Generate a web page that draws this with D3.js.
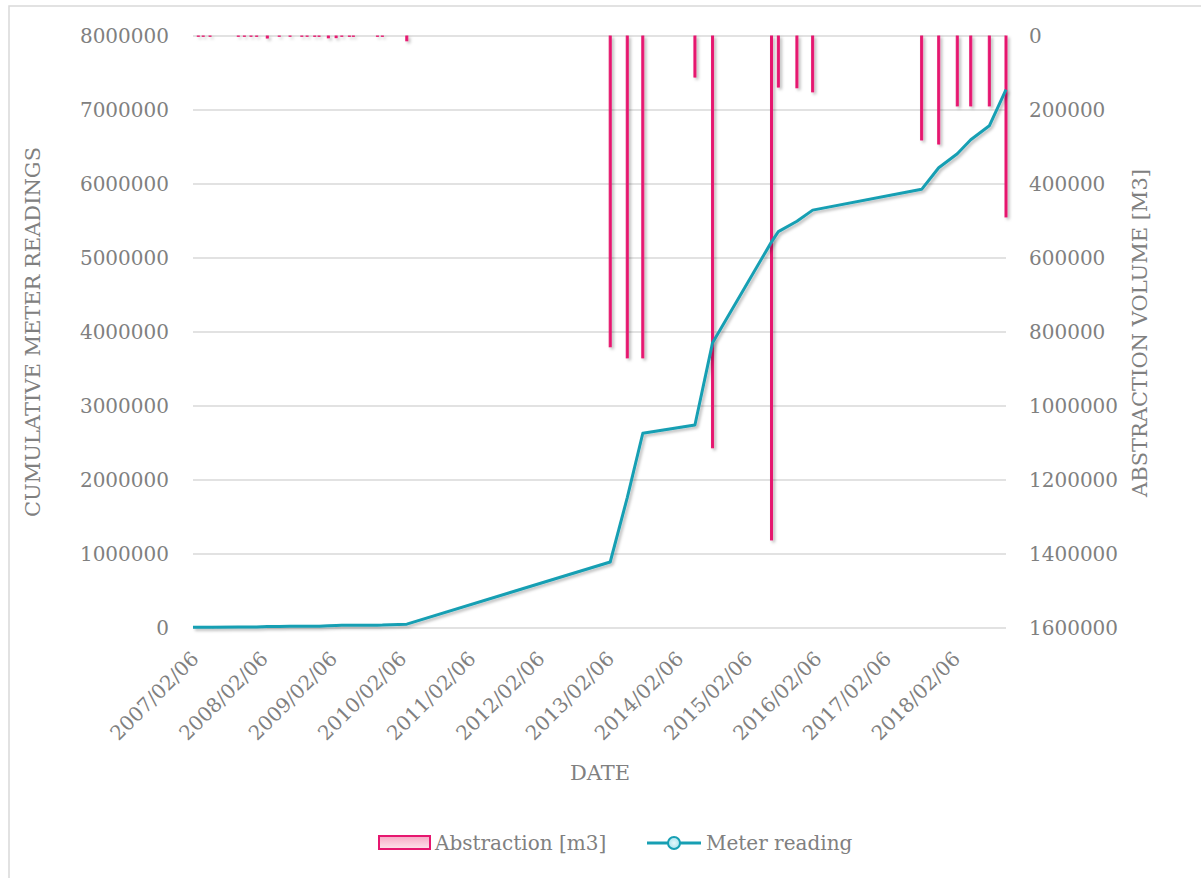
<!DOCTYPE html>
<html>
<head>
<meta charset="utf-8">
<script src="https://cdn.jsdelivr.net/npm/d3@7"></script>
<style>
  body { margin: 0; background: #fff; }
  text { font-family: "DejaVu Serif", serif; fill: #808080; }
</style>
</head>
<body>
<div id="chart"></div>
<script>
// readings (dates of meter readings)
var readingDates = [
  "2007-02-06", "2007-03-06", "2007-04-01", "2007-05-07", "2007-10-03", "2007-11-04",
  "2007-12-09", "2008-01-08", "2008-03-04", "2008-05-06", "2008-07-02", "2008-09-02",
  "2008-09-30", "2008-11-09", "2008-12-02", "2009-01-20", "2009-03-02", "2009-04-01",
  "2009-05-11", "2009-06-01", "2009-10-06", "2009-11-01", "2010-03-10",
  "2013-02-15", "2013-05-16", "2013-08-06", "2014-05-08", "2014-08-09",
  "2015-06-16", "2015-07-22", "2015-10-28", "2016-01-19",
  "2017-08-16", "2017-11-14", "2018-02-20", "2018-05-02", "2018-08-08", "2018-11-04"
];
// abstraction volume [m3] per reading
var abstraction = [
  0, 800, 800, 800, 800, 800,
  800, 900, 5500, 800, 800, 800,
  800, 900, 900, 5000, 4500, 800,
  900, 900, 900, 900, 13000,
  840000, 870000, 870000, 111000, 1113000,
  1362000, 138000, 140000, 151000,
  281000, 292000, 189000, 189000, 189000, 489000
];
// cumulative meter readings
var meter = [
  10000, 10500, 11000, 11500, 13000, 13500,
  14000, 14500, 20000, 21000, 22000, 23000,
  23500, 24000, 24500, 30000, 35000, 35500,
  36000, 36500, 38000, 39000, 52000,
  892000, 1762000, 2632000, 2743000, 3856000,
  5218000, 5356000, 5496000, 5647000,
  5928000, 6220000, 6409000, 6598000, 6787000, 7276000
];
var leftTicks = [0, 1000000, 2000000, 3000000, 4000000, 5000000, 6000000, 7000000, 8000000];
var rightTicks = [0, 200000, 400000, 600000, 800000, 1000000, 1200000, 1400000, 1600000];
var xTickLabels = ["2007-02-06", "2008-02-06", "2009-02-06", "2010-02-06", "2011-02-06", "2012-02-06",
  "2013-02-06", "2014-02-06", "2015-02-06", "2016-02-06", "2017-02-06", "2018-02-06"];

var svgWidth = 1201;
var svgHeight = 878;
var plot = { left: 193, right: 1006, top: 36, bottom: 628 };

var parse = d3.timeParse("%Y-%m-%d");
var fmt = d3.timeFormat("%Y/%m/%d");

var data = readingDates.map(function(d, i) {
  return { date: parse(d), abs: abstraction[i], meter: meter[i] };
});

var svg = d3.select("#chart")
  .append("svg")
  .attr("width", svgWidth)
  .attr("height", svgHeight);

var defs = svg.append("defs");
var shadow = defs.append("filter").attr("id", "shadow")
  .attr("x", "-20%").attr("y", "-20%").attr("width", "150%").attr("height", "150%");
shadow.append("feDropShadow")
  .attr("dx", 2).attr("dy", 2).attr("stdDeviation", 1.5)
  .attr("flood-color", "#000").attr("flood-opacity", 0.28);

var pinkGrad = defs.append("linearGradient").attr("id", "pinkGrad")
  .attr("x1", 0).attr("y1", 0).attr("x2", 0).attr("y2", 1);
pinkGrad.append("stop").attr("offset", "0%").attr("stop-color", "#f7a8c4");
pinkGrad.append("stop").attr("offset", "100%").attr("stop-color", "#fde3ec");

var cyanGrad = defs.append("radialGradient").attr("id", "cyanGrad");
cyanGrad.append("stop").attr("offset", "0%").attr("stop-color", "#e6f8fb");
cyanGrad.append("stop").attr("offset", "100%").attr("stop-color", "#a9e3ee");

// chart border (only left/top visible)
svg.append("rect")
  .attr("x", 9).attr("y", 6)
  .attr("width", 1300).attr("height", 1000)
  .attr("fill", "none")
  .attr("stroke", "#d9d9d9")
  .attr("stroke-width", 1.5);

// scales
var x = d3.scaleTime()
  .domain([parse("2007-02-06"), parse("2018-11-04")])
  .range([plot.left, plot.right]);

var yLeft = d3.scaleLinear()
  .domain([0, 8000000])
  .range([plot.bottom, plot.top]);

var yRight = d3.scaleLinear()
  .domain([0, 1600000])
  .range([plot.top, plot.bottom]);

// gridlines
svg.append("g")
  .selectAll("line")
  .data(leftTicks)
  .enter()
  .append("line")
  .attr("x1", plot.left)
  .attr("x2", plot.right)
  .attr("y1", d => yLeft(d))
  .attr("y2", d => yLeft(d))
  .attr("stroke", "#d9d9d9")
  .attr("stroke-width", 1.5);

// left axis
var leftAxis = d3.axisLeft(yLeft).tickValues(leftTicks).tickFormat(d3.format("d")).tickSize(0).tickPadding(0);
var gl = svg.append("g")
  .attr("transform", `translate(${plot.left - 24}, 0)`)
  .call(leftAxis);
gl.select(".domain").remove();
gl.selectAll("text").attr("font-size", "20px").attr("fill", "#808080")
  .attr("font-family", "DejaVu Serif, serif");

// right axis
var rightAxis = d3.axisRight(yRight).tickValues(rightTicks).tickFormat(d3.format("d")).tickSize(0).tickPadding(0);
var gr = svg.append("g")
  .attr("transform", `translate(${plot.right + 23}, 0)`)
  .call(rightAxis);
gr.select(".domain").remove();
gr.selectAll("text").attr("font-size", "20px").attr("fill", "#808080")
  .attr("font-family", "DejaVu Serif, serif");

// x tick labels
svg.append("g")
  .selectAll("text")
  .data(xTickLabels.map(parse))
  .enter()
  .append("text")
  .attr("transform", d => `translate(${x(d) + 2}, 655) rotate(-45)`)
  .attr("text-anchor", "end")
  .attr("dy", "0.35em")
  .attr("font-size", "20px")
  .text(d => fmt(d));

// abstraction bars (hang from top, reversed right axis)
svg.append("g")
  .attr("filter", "url(#shadow)")
  .selectAll("rect")
  .data(data.filter(d => d.abs > 0))
  .enter()
  .append("rect")
  .attr("x", d => x(d.date) - 1)
  .attr("y", yRight(0))
  .attr("width", 2)
  .attr("height", d => yRight(d.abs) - yRight(0))
  .attr("fill", "#e6166f")
  .attr("stroke", "#e6166f")
  .attr("stroke-width", 1);

// meter reading line
var line = d3.line()
  .x(d => x(d.date))
  .y(d => yLeft(d.meter));

svg.append("path")
  .datum(data)
  .attr("d", line)
  .attr("fill", "none")
  .attr("stroke", "#179fb3")
  .attr("stroke-width", 3)
  .attr("stroke-linejoin", "round")
  .attr("filter", "url(#shadow)");

// axis titles
svg.append("text")
  .attr("transform", "translate(40, 332) rotate(-90)")
  .attr("text-anchor", "middle")
  .attr("font-size", "21px")
  .text("CUMULATIVE METER READINGS");

svg.append("text")
  .attr("transform", "translate(1147, 333) rotate(-90)")
  .attr("text-anchor", "middle")
  .attr("font-size", "21px")
  .text("ABSTRACTION VOLUME [M3]");

svg.append("text")
  .attr("x", 600)
  .attr("y", 780)
  .attr("text-anchor", "middle")
  .attr("font-size", "21px")
  .text("DATE");

// legend
var legend = svg.append("g");
legend.append("rect")
  .attr("x", 379).attr("y", 836)
  .attr("width", 51).attr("height", 13)
  .attr("fill", "url(#pinkGrad)")
  .attr("stroke", "#e6166f")
  .attr("stroke-width", 2);
legend.append("text")
  .attr("x", 435).attr("y", 850)
  .attr("font-size", "20px")
  .text("Abstraction [m3]");

legend.append("line")
  .attr("x1", 647).attr("x2", 701)
  .attr("y1", 843).attr("y2", 843)
  .attr("stroke", "#179fb3")
  .attr("stroke-width", 3);
legend.append("circle")
  .attr("cx", 674).attr("cy", 843).attr("r", 6)
  .attr("fill", "url(#cyanGrad)")
  .attr("stroke", "#179fb3")
  .attr("stroke-width", 2);
legend.append("text")
  .attr("x", 706).attr("y", 850)
  .attr("font-size", "20px")
  .text("Meter reading");
</script>
</body>
</html>
